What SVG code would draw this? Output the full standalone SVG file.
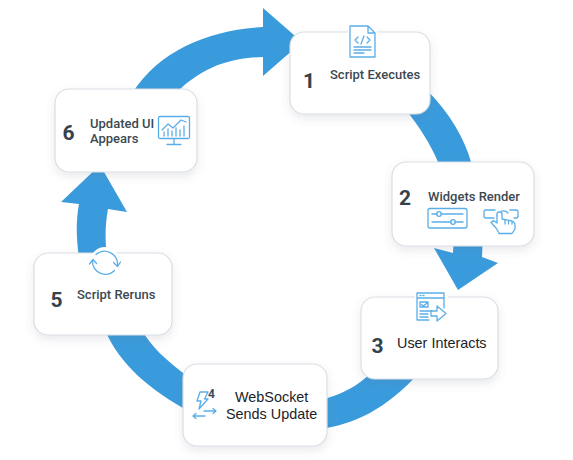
<svg xmlns="http://www.w3.org/2000/svg" width="573" height="460" viewBox="0 0 573 460">
<style>
.card{fill:#fff;stroke:#dadee3;stroke-width:1.2;filter:url(#sh)}
.num{font-family:Roboto,"Liberation Sans",sans-serif;font-weight:700;font-size:21px;fill:#34424b}
.lab{font-family:Roboto,"Liberation Sans",sans-serif;font-weight:500;font-size:13px;fill:#3c4952}
.lab2{font-family:"Liberation Sans",Arial,sans-serif;font-size:14.4px;fill:#1c2328}
.arr{fill:#3a9bdc}
.ic{fill:none;stroke:#5aaee8;stroke-width:1.3;stroke-linejoin:round;stroke-linecap:round}
.bg{fill:#fff;stroke:none}
</style>
<defs>
<filter id="sh" x="-20%" y="-20%" width="140%" height="150%"><feDropShadow dx="0" dy="4" stdDeviation="4.5" flood-color="#5a6a78" flood-opacity="0.14"/></filter>
</defs>
<rect width="573" height="460" fill="#fff"/>
<g id="connectors">
<path class="arr" d="M133,92C160,50 210,30 263,27L263,8L302,42L263,76L263,57C225,58 200,70 177,92Z"/>
<path class="arr" d="M426,89C450,113 465,140 471,162C478,190 484,225 482,257L498,263L458,290L434,248L453,253C455,220 448,185 438,162C430,143 420,128 406,110Z"/>
<path class="arr" d="M372,372C357,387 340,395 320,400L320,429C355,424 385,410 420,372Z"/>
<path class="arr" d="M142,330C150,345 165,360 190,378L190,412C150,390 120,365 105,330Z"/>
<path class="arr" d="M79,258C76,235 76,220 79,204L61,202L100,165L127,212L108,209C105,225 105,240 107,258Z"/>
</g>
<g id="node1">
<rect class="card" x="290" y="32" width="140" height="82" rx="14"/>
<rect class="bg" x="348" y="27" width="29" height="8"/>
<path class="bg" d="M350,26H368L375,33V57H350Z"/>
<path class="ic" d="M350,26H368L375,33V57H350ZM368,26V33H375"/>
<path class="ic" d="M358,37L355,40L358,43M367,37L370,40L367,43M364,36L361,44M354,47H371M354,50H371M354,53H364"/>
<text class="num" x="303" y="88">1</text>
<text class="lab" x="330" y="79">Script Executes</text>
</g>
<g id="node2">
<rect class="card" x="392" y="162" width="142" height="84" rx="14"/>
<text class="num" x="399" y="205">2</text>
<text class="lab" x="428" y="201">Widgets Render</text>
<rect class="ic" x="428" y="208.500" width="39" height="19.500" rx="2"/>
<path class="ic" d="M432,214H437M441,214H463M432,222H451M455,222H463"/>
<circle class="ic" cx="439" cy="214" r="2.300"/><circle class="ic" cx="453" cy="222" r="2.300"/>
<path class="ic" d="M494,218H486Q484,218 484,216V212Q484,210 486,210H495M510,210H516Q518,210 518,212V216Q518,218 516,218H514"/>
<path class="ic" d="M497,216A6.500,6.500 0 0 1 508,213"/>
<path class="bg" d="M499,234L496,228L491,222L494,220L497,222V213L500,211L503,213V218L513,220L516,222V228L514,234Z"/>
<path class="ic" d="M499,233L496,228L491,222.500L493.500,220.500L497,223V214Q497,212 499.500,212Q502,212 502,214V219L512,221Q515,222 515,225V229L512,233.500H499M505,220V224M508.500,221V224M512,222V224"/>
</g>
<g id="node3">
<rect class="card" x="361" y="297" width="137" height="82" rx="14"/>
<rect class="bg" x="415" y="293" width="33" height="27"/>
<path class="ic" d="M417,293H444V308M417,293V320H429M417,298H444M420,295.500H421M423,295.500H424"/>
<path class="ic" d="M420,302H428V307H420ZM421.500,304.500L423.500,306L427,303M420,311H432M420,314H428M420,317H428"/>
<path class="ic" d="M431,311H437V306L446,313.500L437,321V316H431Z"/>
<text class="num" x="371.500" y="353">3</text>
<text class="lab2" x="397" y="348">User Interacts</text>
</g>
<g id="node4">
<rect class="card" x="183" y="364" width="144" height="82" rx="14"/>
<path class="ic" d="M200,392H208L204.500,399H208L199,409L201,401H197Z"/>
<path class="ic" d="M204,411H216M213,408.500L216,411L213,413.500M193,416H205M196,413.500L193,416L196,418.500"/>
<text x="208" y="398" style="font-family:Roboto,'Liberation Sans',sans-serif;font-weight:700;font-size:12px;fill:#3d4a53">4</text>
<text class="lab2" x="235" y="402">WebSocket</text>
<text class="lab2" x="226" y="419">Sends Update</text>
</g>
<g id="node5">
<rect class="card" x="34" y="253" width="138" height="82" rx="14"/>
<circle class="bg" cx="105" cy="262" r="15"/>
<path class="ic" d="M96,254.500A13,13 0 0 1 117.500,265M114.500,270.500A13,13 0 0 1 92.500,261"/>
<path class="ic" d="M113.500,262.500L117.500,266.500L120.500,262M89.500,264L93,259.500L96.500,263.500"/>
<text class="num" x="50.500" y="307">5</text>
<text class="lab" x="77" y="299">Script Reruns</text>
</g>
<g id="node6">
<rect class="card" x="55" y="89" width="142" height="83" rx="14"/>
<rect class="ic" x="158.500" y="116.500" width="31" height="22" rx="1.500"/>
<path class="ic" d="M174,139V144M167,144.500H181M162,130L168,124L173,128L181,120L186,122"/>
<path class="ic" d="M164,136V132M168,136V129M172,136V131M176,136V128M180,136V130M184,136V126"/>
<text class="num" x="62.500" y="140">6</text>
<text class="lab" x="90" y="128">Updated UI</text>
<text class="lab" x="90" y="143">Appears</text>
</g>
</svg>
